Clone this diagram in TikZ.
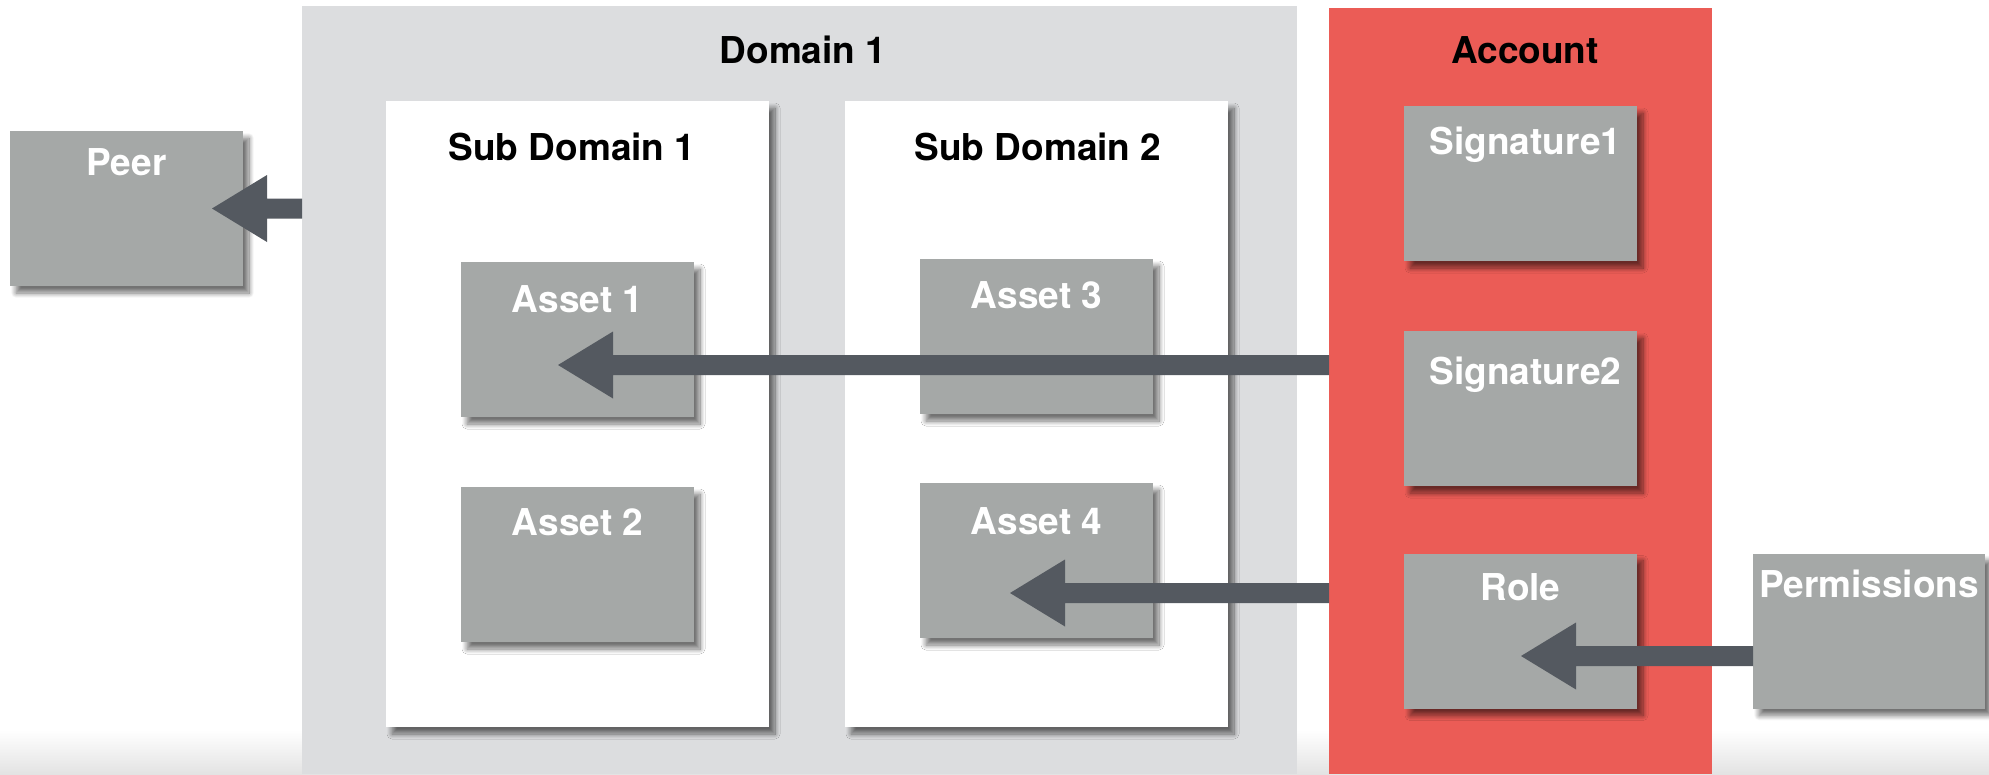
\documentclass[tikz,border=0pt]{standalone}
\usepackage{fontspec}
\setmainfont{TeX Gyre Heros}
\usetikzlibrary{calc,shadows.blur}

\definecolor{domaingrey}{HTML}{DCDDDF}
\definecolor{accountred}{HTML}{EB5C56}
\definecolor{tilegrey}{HTML}{A5A8A7}
\definecolor{arrowslate}{HTML}{545960}

% A broad flat arrow pointing left, from tail #1 to tip #2 (same height)
\newcommand\fatarrow[2]{%
  \fill[arrowslate] let \p1=(#1), \p2=(#2) in
    (\x2,\y2) -- (\x2+55pt,\y2+33.5pt) -- (\x2+55pt,\y2+10pt)
    -- (\x1,\y2+10pt) -- (\x1,\y2-10pt) -- (\x2+55pt,\y2-10pt)
    -- (\x2+55pt,\y2-33.5pt) -- cycle;}

\begin{document}
\begin{tikzpicture}[x=1pt,y=-1pt,
  region/.style={rectangle, draw=none, inner sep=0pt, outer sep=0pt},
  softshadow/.style={blur shadow={shadow xshift=6pt, shadow yshift=-7pt,
      shadow blur radius=5pt, shadow opacity=55, shadow blur steps=12}},
  panel/.style={region, fill=white, softshadow, minimum width=383pt, minimum height=626pt},
  tile/.style={region, fill=tilegrey, softshadow, minimum width=233pt, minimum height=155pt},
  heading/.style={font=\bfseries\fontsize{37}{40}\selectfont, text=black, anchor=base, inner sep=0pt},
  tiletext/.style={heading, text=white},
]
\useasboundingbox (0,0) rectangle (1989,774);

% faint floor haze along the lower edge
\shade[top color=white, bottom color=black!11] (0,730) rectangle (1989,774);

% large regions
\node[region, fill=domaingrey, minimum width=995pt, minimum height=768pt] (domain) at (799.5,390) {};
\node[region, fill=accountred, minimum width=383pt, minimum height=766pt] (account) at (1520.5,391) {};
\node[heading] at (803,63) {Domain 1};
\node[heading] at (1525,63) {Account};

% sub domains
\node[panel] (sub1) at (577.5,414) {};
\node[panel] (sub2) at (1036.5,414) {};
\node[heading] at (572,160) {Sub Domain 1};
\node[heading] at (1038,160) {Sub Domain 2};

% tiles
\node[tile] (peer) at (126.5,208.5) {};
\node[tile] (a1) at (577.5,339.5) {};
\node[tile] (a2) at (577.5,564.5) {};
\node[tile] (a3) at (1036.5,336.5) {};
\node[tile] (a4) at (1036.5,560.5) {};
\node[tile] (sig1) at (1520.5,183.5) {};
\node[tile] (sig2) at (1520.5,408.5) {};
\node[tile] (role) at (1520.5,631) {};
\node[tile, minimum width=232pt] (perm) at (1869,631) {};

\node[tiletext] at ([yshift=-44pt]peer.north) {Peer};
\node[tiletext] at ([yshift=-50pt]a1.north) {Asset 1};
\node[tiletext] at ([yshift=-48pt]a2.north) {Asset 2};
\node[tiletext] at ([yshift=-49pt]a3.north) {Asset 3};
\node[tiletext] at ([yshift=-51pt]a4.north) {Asset 4};
\node[tiletext] at ([xshift=5pt,yshift=-48pt]sig1.north) {Signature1};
\node[tiletext] at ([xshift=5pt,yshift=-53pt]sig2.north) {Signature2};
\node[tiletext] at ([yshift=-47pt]role.north) {Role};
\node[tiletext] at ([yshift=-44pt]perm.north) {Permissions};

% arrow tips
\coordinate (peertip) at ([xshift=-31pt]peer.east);
\coordinate (a1tip) at ([xshift=-19.5pt,yshift=-25.5pt]a1.center);
\coordinate (a4tip) at ([xshift=-26.5pt,yshift=-32.5pt]a4.center);
\coordinate (roletip) at ([xshift=0.5pt,yshift=-25pt]role.center);

% connectors
\fatarrow{domain.west |- peertip}{peertip}
\fatarrow{account.west |- a1tip}{a1tip}
\fatarrow{account.west |- a4tip}{a4tip}
\fatarrow{perm.west |- roletip}{roletip}
\end{tikzpicture}
\end{document}
